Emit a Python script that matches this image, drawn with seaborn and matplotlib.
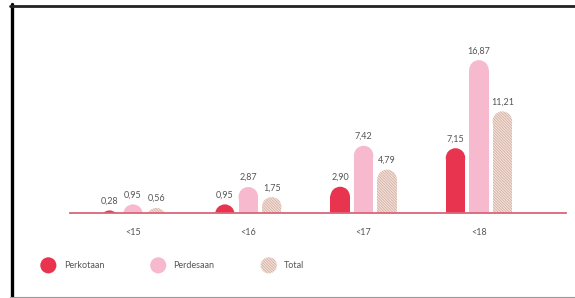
import pandas as pd
import matplotlib
matplotlib.use("Agg")
import matplotlib.pyplot as plt
import matplotlib.patches as mpatches
from matplotlib.legend_handler import HandlerPatch
from matplotlib.lines import Line2D
import seaborn as sns

# --- data ---
categories = ["<15", "<16", "<17", "<18"]
series_names = ["Perkotaan", "Perdesaan", "Total"]
perkotaan = [0.28, 0.95, 2.90, 7.15]
perdesaan = [0.95, 2.87, 7.42, 16.87]
total = [0.56, 1.75, 4.79, 11.21]

colors = ["#e8344f", "#f6b9cd", "#f2e0d8"]
hatch_color = "#cfa99c"
hatch = "\\" * 12
text_color = "#555555"
line_color = "#d9667a"

df = pd.DataFrame({
    "kelompok": categories * 3,
    "nilai": perkotaan + perdesaan + total,
    "wilayah": [s for s in series_names for _ in categories],
})

sns.set_theme(style="white")
plt.rcParams["font.family"] = ["Lato", "DejaVu Sans"]
plt.rcParams["hatch.linewidth"] = 0.5

W, H = 575, 298
fig = plt.figure(figsize=(W / 100, H / 100), dpi=100)
ax_l, ax_b, ax_w, ax_h = 70 / W, (H - 213) / H, 496 / W, 193 / H
ax = fig.add_axes([ax_l, ax_b, ax_w, ax_h])

sns.barplot(data=df, x="kelompok", y="nilai", hue="wilayah",
            hue_order=series_names, palette=colors, saturation=1,
            width=0.61, gap=0.17, linewidth=0, legend=False, ax=ax)

xlim = (-0.546, 3.755)
ylim = (0, 21.3)
ax.set_xlim(*xlim)
ax.set_ylim(*ylim)

# value labels (comma decimal)
for cont in ax.containers:
    ax.bar_label(cont, labels=[f"{v:.2f}".replace(".", ",") for v in cont.datavalues],
                 padding=3.5, fontsize=6.5, color=text_color)

# rounded tops: shorten each bar and put a half-ellipse on top
px_per_x = ax_w * W / (xlim[1] - xlim[0])
px_per_y = ax_h * H / (ylim[1] - ylim[0])
for i, cont in enumerate(ax.containers):
    for p in cont.patches:
        x, w, h = p.get_x(), p.get_width(), p.get_height()
        r_y = (w * px_per_x / 2) / px_per_y
        p.set_height(max(h - r_y, 0))
        cap = mpatches.Ellipse((x + w / 2, h - r_y), w, 2 * r_y,
                               facecolor=colors[i], linewidth=0)
        ax.add_patch(cap)
        if series_names[i] == "Total":
            for art in (p, cap):
                art.set_hatch(hatch)
                art.set_edgecolor(hatch_color)
                art.set_linewidth(0)

sns.despine(ax=ax, left=True)
ax.spines["bottom"].set_color(line_color)
ax.spines["bottom"].set_linewidth(1.3)
ax.set_yticks([])
ax.set_xlabel("")
ax.set_ylabel("")
ax.tick_params(axis="x", length=0, pad=11, labelsize=6.5, labelcolor=text_color)


def circle_handle(legend, orig_handle, xdescent, ydescent, width, height, fontsize):
    return mpatches.Circle((-xdescent + width / 2, -ydescent + height / 2), radius=5.8)


handles = [mpatches.Patch(facecolor=c, linewidth=0) for c in colors]
handles[2].set_hatch(hatch)
handles[2].set_edgecolor(hatch_color)
leg = fig.legend(handles, series_names, loc="center left",
                 bbox_to_anchor=(33 / W, (H - 266) / H), ncol=3, frameon=False,
                 fontsize=6.5, handlelength=1.6, handletextpad=0.9, columnspacing=5.2,
                 handler_map={mpatches.Patch: HandlerPatch(patch_func=circle_handle)})
for t in leg.get_texts():
    t.set_color(text_color)

# border of the screenshot
fig.add_artist(Line2D([11.5 / W, 11.5 / W], [1 - 4 / H, 1 - 297 / H], color="black",
                      linewidth=2.4, transform=fig.transFigure))
fig.add_artist(Line2D([10 / W, 1], [1 - 6 / H, 1 - 6 / H], color="#222222",
                      linewidth=2.0, transform=fig.transFigure))
fig.add_artist(Line2D([10 / W, 1], [1 - 296.5 / H, 1 - 296.5 / H], color="#999999",
                      linewidth=0.8, transform=fig.transFigure))

fig.savefig("out.png", dpi=100)
